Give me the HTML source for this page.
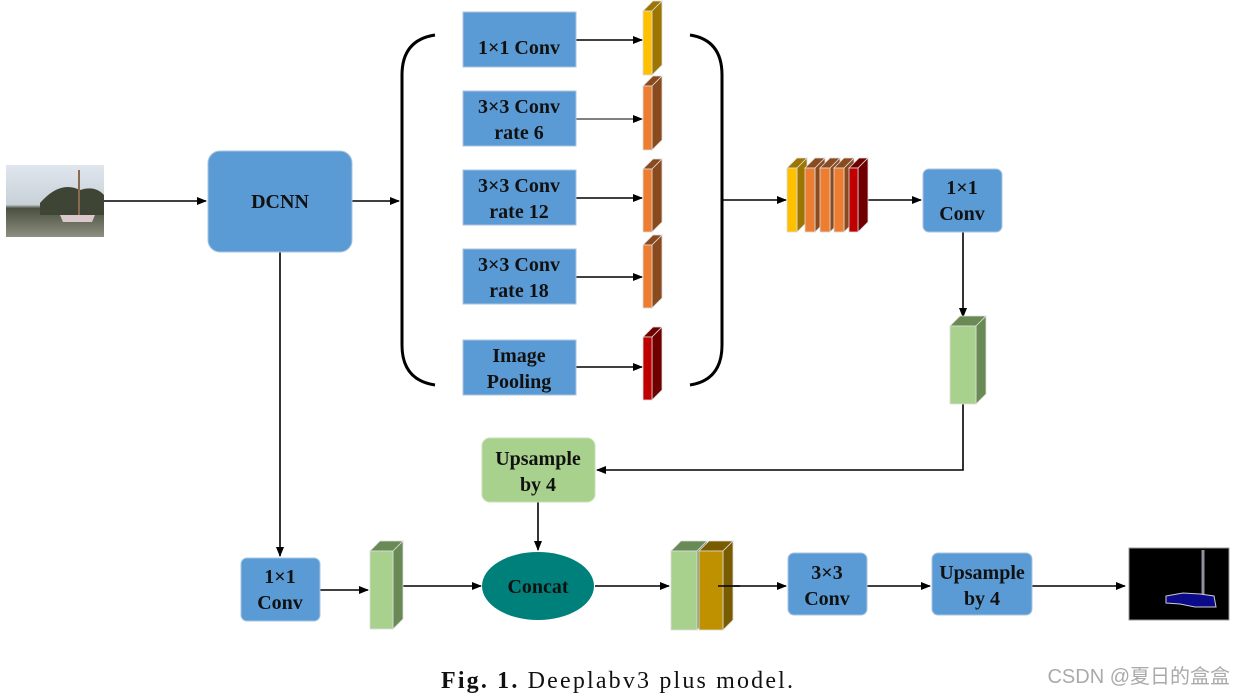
<!DOCTYPE html>
<html><head><meta charset="utf-8"><style>
body{margin:0;background:#fff;width:1234px;height:694px;overflow:hidden}
text{font-family:"Liberation Serif",serif;font-weight:bold;font-size:20px;fill:#111;text-anchor:middle}
</style></head><body>
<svg width="1234" height="694" viewBox="0 0 1234 694" xmlns="http://www.w3.org/2000/svg">
<defs>
<marker id="a" markerWidth="10" markerHeight="8" refX="9" refY="4" orient="auto" markerUnits="userSpaceOnUse"><path d="M0,0 L10,4 L0,8 Z" fill="#000"/></marker>
<linearGradient id="sky" x1="0" y1="0" x2="0" y2="1"><stop offset="0" stop-color="#dfe6ee"/><stop offset="0.55" stop-color="#c9d1d8"/><stop offset="0.6" stop-color="#4b5040"/><stop offset="1" stop-color="#8d8f80"/></linearGradient>
</defs>
<rect x="6" y="165" width="98" height="72" fill="url(#sky)"/>
<path d="M40,203 Q60,180 80,190 Q95,185 104,195 L104,215 L40,215Z" fill="#3f4535"/>
<path d="M60,215 L95,215 L92,222 L63,222Z" fill="#d9c9cc"/>
<line x1="79" y1="170" x2="79" y2="215" stroke="#8a6a50" stroke-width="2"/>
<g stroke="#000" stroke-width="1.6" fill="none">
<line x1="104" y1="201" x2="206" y2="201" marker-end="url(#a)"/>
<line x1="352" y1="201" x2="399" y2="201" marker-end="url(#a)"/>
<line x1="576" y1="40" x2="642" y2="40" marker-end="url(#a)"/>
<line x1="576" y1="119" x2="642" y2="119" marker-end="url(#a)" stroke-width="1"/>
<line x1="576" y1="198" x2="642" y2="198" marker-end="url(#a)"/>
<line x1="576" y1="277" x2="642" y2="277" marker-end="url(#a)"/>
<line x1="576" y1="367" x2="642" y2="367" marker-end="url(#a)"/>
<line x1="722" y1="200" x2="786" y2="200" marker-end="url(#a)"/>
<line x1="868" y1="200" x2="921" y2="200" marker-end="url(#a)"/>
<line x1="963" y1="232" x2="963" y2="317" marker-end="url(#a)"/>
<polyline points="963,404 963,470 597,470" marker-end="url(#a)"/>
<line x1="538" y1="502" x2="538" y2="550" marker-end="url(#a)"/>
<line x1="280" y1="252" x2="280" y2="556" marker-end="url(#a)"/>
<line x1="320" y1="590" x2="368" y2="590" marker-end="url(#a)"/>
<line x1="403" y1="586" x2="481" y2="586" marker-end="url(#a)"/>
<line x1="595" y1="586" x2="669" y2="586" marker-end="url(#a)"/>
<line x1="718" y1="586" x2="786" y2="586" marker-end="url(#a)"/>
<line x1="867" y1="586" x2="930" y2="586" marker-end="url(#a)"/>
<line x1="1032" y1="586" x2="1125" y2="586" marker-end="url(#a)"/>
<path d="M435,35 Q402,40 402,75 L402,345 Q402,380 435,385" stroke-width="3"/>
<path d="M690,35 Q722,40 722,75 L722,345 Q722,380 690,385" stroke-width="3"/>
</g>
<g fill="#5b9bd5" stroke="#a8c4e0" stroke-width="1">
<rect x="208" y="151" width="144" height="101" rx="12"/>
<rect x="463" y="12" width="113" height="55"/>
<rect x="463" y="91" width="113" height="55"/>
<rect x="463" y="170" width="113" height="55"/>
<rect x="463" y="249" width="113" height="55"/>
<rect x="463" y="340" width="113" height="55"/>
<rect x="923" y="169" width="79" height="63" rx="6"/>
<rect x="241" y="558" width="79" height="63" rx="6"/>
<rect x="788" y="553" width="79" height="62" rx="6"/>
<rect x="932" y="553" width="100" height="62" rx="6"/>
</g>
<rect x="482" y="438" width="113" height="64" rx="8" fill="#a9d18e" stroke="#c5dfb3"/>
<ellipse cx="538" cy="586" rx="56" ry="34" fill="#00807a"/>
<g stroke="#ddd" stroke-width="0.8">
<polygon points="643,11 653,1 662,1 652,11" fill="#9c7600"/><polygon points="652,11 662,1 662,65 652,75" fill="#9c7600"/><rect x="643" y="11" width="9" height="64" fill="#ffc000"/>
<polygon points="643,86 653,76 662,76 652,86" fill="#8b4a1e"/><polygon points="652,86 662,76 662,140 652,150" fill="#8b4a1e"/><rect x="643" y="86" width="9" height="64" fill="#ed7d31"/>
<polygon points="643,169 653,159 662,159 652,169" fill="#8b4a1e"/><polygon points="652,169 662,159 662,222 652,232" fill="#8b4a1e"/><rect x="643" y="169" width="9" height="63" fill="#ed7d31"/>
<polygon points="643,245 653,235 662,235 652,245" fill="#8b4a1e"/><polygon points="652,245 662,235 662,298 652,308" fill="#8b4a1e"/><rect x="643" y="245" width="9" height="63" fill="#ed7d31"/>
<polygon points="643,337 653,327 662,327 652,337" fill="#700000"/><polygon points="652,337 662,327 662,390 652,400" fill="#700000"/><rect x="643" y="337" width="9" height="63" fill="#c00000"/>
<polygon points="787,168 797,158 807,158 797,168" fill="#9c7600"/><polygon points="797,168 807,158 807,222 797,232" fill="#9c7600"/><rect x="787" y="168" width="10" height="64" fill="#ffc000"/>
<polygon points="805,168 815,158 825,158 815,168" fill="#8b4a1e"/><polygon points="815,168 825,158 825,222 815,232" fill="#8b4a1e"/><rect x="805" y="168" width="10" height="64" fill="#ed7d31"/>
<polygon points="820,168 830,158 840,158 830,168" fill="#8b4a1e"/><polygon points="830,168 840,158 840,222 830,232" fill="#8b4a1e"/><rect x="820" y="168" width="10" height="64" fill="#ed7d31"/>
<polygon points="834,168 844,158 854,158 844,168" fill="#8b4a1e"/><polygon points="844,168 854,158 854,222 844,232" fill="#8b4a1e"/><rect x="834" y="168" width="10" height="64" fill="#ed7d31"/>
<polygon points="849,168 859,158 868,158 858,168" fill="#700000"/><polygon points="858,168 868,158 868,222 858,232" fill="#700000"/><rect x="849" y="168" width="9" height="64" fill="#c00000"/>
<polygon points="950,326 960,316 986,316 976,326" fill="#6a8a55"/><polygon points="976,326 986,316 986,394 976,404" fill="#6a8a55"/><rect x="950" y="326" width="26" height="78" fill="#a9d18e"/>
<polygon points="370,551 380,541 403,541 393,551" fill="#6a8a55"/><polygon points="393,551 403,541 403,619 393,629" fill="#6a8a55"/><rect x="370" y="551" width="23" height="78" fill="#a9d18e"/>
<polygon points="671,551 681,541 707,541 697,551" fill="#6a8a55"/><polygon points="697,551 707,541 707,620 697,630" fill="#6a8a55"/><rect x="671" y="551" width="26" height="79" fill="#a9d18e"/>
<polygon points="699,551 709,541 733,541 723,551" fill="#7a5c00"/><polygon points="723,551 733,541 733,620 723,630" fill="#7a5c00"/><rect x="699" y="551" width="24" height="79" fill="#bf9000"/>
</g>
<line x1="718" y1="586" x2="740" y2="586" stroke="#000" stroke-width="1.6"/>
<rect x="1129" y="548" width="100" height="72" fill="#000" stroke="#999"/>
<line x1="1203" y1="550" x2="1203" y2="595" stroke="#9090a0" stroke-width="3"/>
<path d="M1166,596 L1183,593 L1200,594 L1214,596 L1216,607 L1195,607 L1180,604 L1166,603Z" fill="#0a0a8a" stroke="#ccc" stroke-width="1"/>
<text x="280" y="208">DCNN</text>
<text x="519" y="54">1×1 Conv</text>
<text x="519" y="113">3×3 Conv</text><text x="519" y="139">rate 6</text>
<text x="519" y="192">3×3 Conv</text><text x="519" y="218">rate 12</text>
<text x="519" y="271">3×3 Conv</text><text x="519" y="297">rate 18</text>
<text x="519" y="362">Image</text><text x="519" y="388">Pooling</text>
<text x="962" y="194">1×1</text><text x="962" y="220">Conv</text>
<text x="538" y="465">Upsample</text><text x="538" y="491">by 4</text>
<text x="280" y="583">1×1</text><text x="280" y="609">Conv</text>
<text x="538" y="593">Concat</text>
<text x="827" y="579">3×3</text><text x="827" y="605">Conv</text>
<text x="982" y="579">Upsample</text><text x="982" y="605">by 4</text>
<text x="617" y="688" textLength="352" lengthAdjust="spacing" style="font-size:24px;font-weight:normal"><tspan font-weight="bold">Fig. 1.</tspan> Deeplabv3 plus model.</text>
<text x="1230" y="683" style="font-family:'Liberation Sans','Noto Sans CJK SC',sans-serif;font-weight:normal;font-size:20px;fill:#aaa;text-anchor:end">CSDN @夏日的盒盒</text>
</svg>
</body></html>
